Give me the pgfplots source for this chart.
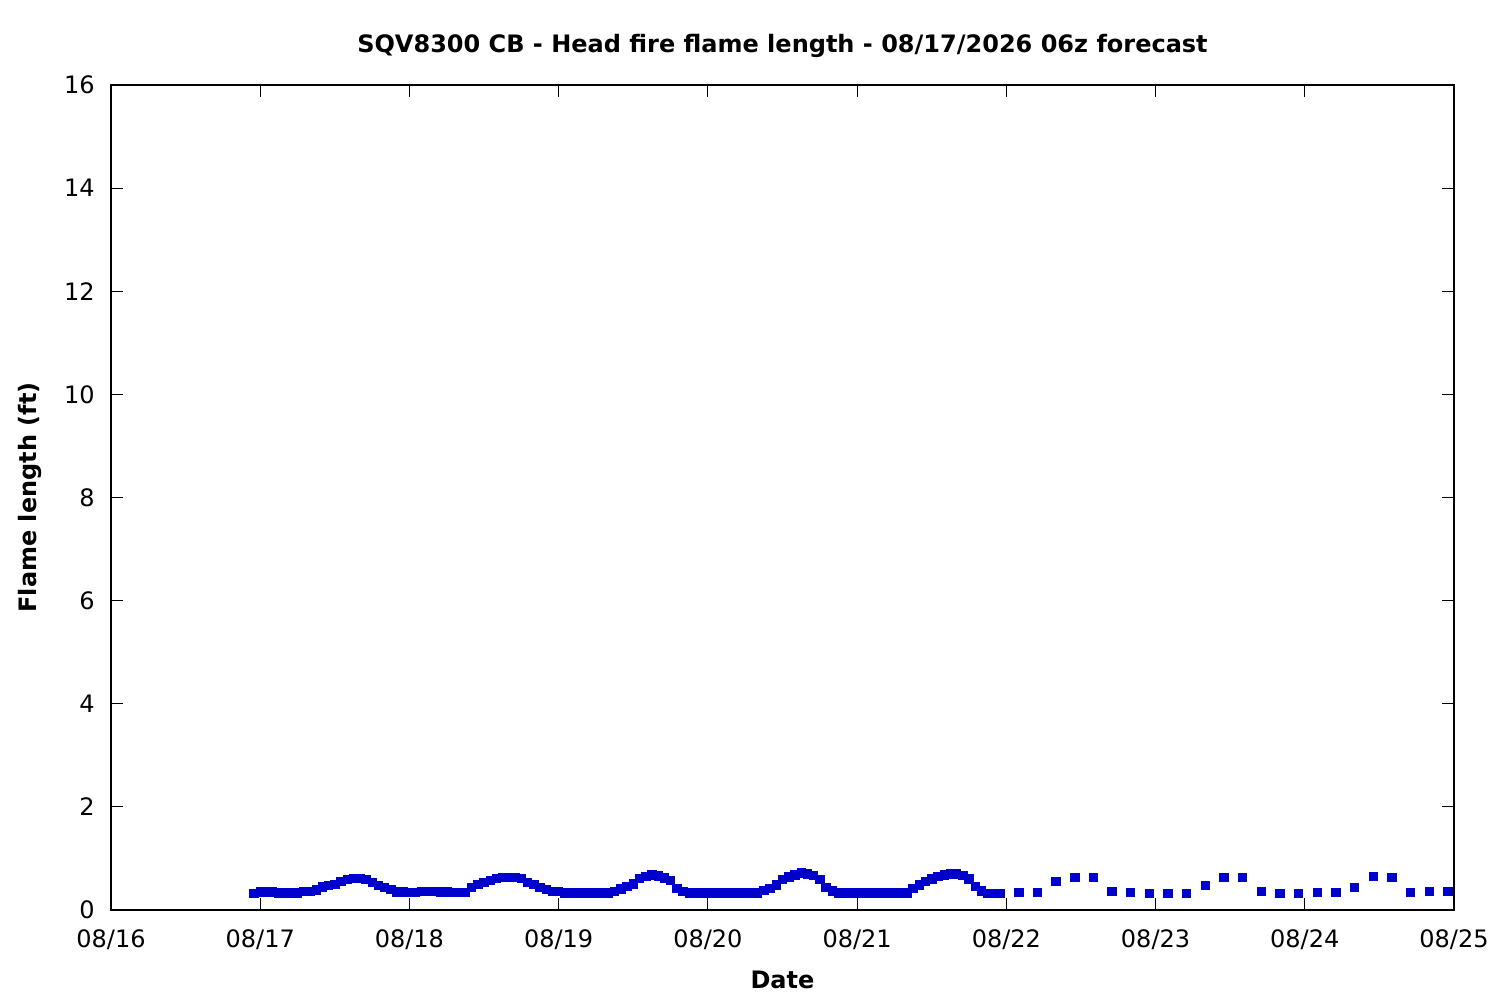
\documentclass[border=0pt]{standalone}
\usepackage{pgfplots}
\pgfplotsset{compat=1.18}
\usepackage{fontspec}
\setmainfont{DejaVu Sans}
\definecolor{ptblue}{HTML}{0000CC}
\begin{document}
\begin{tikzpicture}
\useasboundingbox (-55.5bp,-45bp) rectangle (694.5bp,455bp);
\begin{axis}[
  at={(0,0)}, anchor=south west,
  scale only axis, width=671.5bp, height=412.5bp,
  xmin=0, xmax=216, ymin=0, ymax=16,
  xtick={0,24,48,72,96,120,144,168,192,216},
  xticklabels={08/16,08/17,08/18,08/19,08/20,08/21,08/22,08/23,08/24,08/25},
  ytick={0,2,4,6,8,10,12,14,16},
  /pgf/number format/assume math mode=true,
  tick align=inside, major tick length=6bp,
  axis line style={line width=0.6bp}, every tick/.style={line width=0.5bp, black},
  ticklabel style={font=\fontsize{12bp}{14bp}\selectfont},
  xticklabel style={anchor=north, inner sep=0pt, yshift=-9.5bp},
  yticklabel style={anchor=east, inner sep=0pt, xshift=-8bp},
  title={\bfseries SQV8300 CB - Head fire flame length - 08/17/2026 06z forecast},
  title style={font=\fontsize{12bp}{14bp}\selectfont, at={(0.5,1)}, anchor=base, yshift=10.5bp, inner sep=0pt},
  xlabel={\bfseries Date},
  xlabel style={font=\fontsize{12bp}{14bp}\selectfont, at={(0.5,0)}, anchor=base, yshift=-39bp, inner sep=0pt},
  ylabel={\bfseries Flame length (ft)},
  ylabel style={font=\fontsize{12bp}{14bp}\selectfont, at={([xshift=-37bp]axis description cs:0,0.5)}, anchor=base, inner sep=0pt},
  clip=false,
]
\addplot[only marks, mark=square*, mark size=2.1bp, color=ptblue] table {
h y
23 0.32
24 0.35
25 0.35
26 0.35
27 0.33
28 0.33
29 0.33
30 0.33
31 0.36
32 0.36
33 0.39
34 0.45
35 0.48
36 0.50
37 0.55
38 0.59
39 0.61
40 0.61
41 0.59
42 0.53
43 0.48
44 0.44
45 0.40
46 0.35
47 0.35
48 0.34
49 0.34
50 0.36
51 0.36
52 0.36
53 0.35
54 0.35
55 0.34
56 0.34
57 0.34
58 0.44
59 0.50
60 0.54
61 0.57
62 0.61
63 0.63
64 0.63
65 0.63
66 0.61
67 0.54
68 0.50
69 0.44
70 0.40
71 0.36
72 0.36
73 0.33
74 0.33
75 0.33
76 0.33
77 0.33
78 0.33
79 0.33
80 0.33
81 0.365
82 0.41
83 0.46
84 0.51
85 0.61
86 0.65
87 0.68
88 0.66
89 0.62
90 0.57
91 0.42
92 0.36
93 0.33
94 0.33
95 0.33
96 0.33
97 0.33
98 0.33
99 0.33
100 0.33
101 0.33
102 0.33
103 0.33
104 0.33
105 0.38
106 0.42
107 0.49
108 0.59
109 0.64
110 0.68
111 0.72
112 0.70
113 0.67
114 0.59
115 0.44
116 0.37
117 0.33
118 0.33
119 0.33
120 0.33
121 0.33
122 0.33
123 0.33
124 0.33
125 0.33
126 0.33
127 0.33
128 0.33
129 0.42
130 0.49
131 0.55
132 0.60
133 0.65
134 0.68
135 0.70
136 0.70
137 0.67
138 0.60
139 0.46
140 0.37
141 0.32
142 0.32
143 0.32
146 0.34
149 0.34
152 0.55
155 0.63
158 0.63
161 0.36
164 0.34
167 0.32
170 0.32
173 0.32
176 0.475
179 0.63
182 0.63
185 0.36
188 0.32
191 0.32
194 0.34
197 0.34
200 0.44
203 0.65
206 0.63
209 0.34
212 0.36
215 0.36
};
\end{axis}
\end{tikzpicture}
\end{document}
